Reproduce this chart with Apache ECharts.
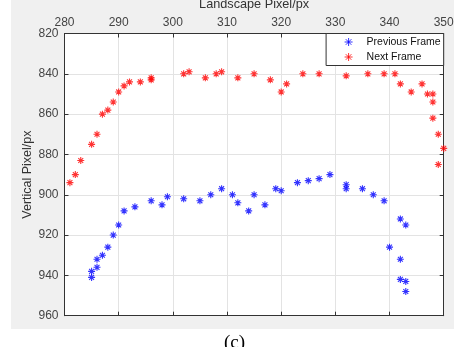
<!DOCTYPE html>
<html><head><meta charset="utf-8">
<script src="https://cdn.jsdelivr.net/npm/echarts@6/dist/echarts.min.js"></script>
<style>html,body{margin:0;padding:0;background:#fff}#c{width:454px;height:347px}</style>
</head><body><div id="c"></div>
<script>
const xTicks = [280, 290, 300, 310, 320, 330, 340, 350];
const yTicks = [820, 840, 860, 880, 900, 920, 940, 960];
const prevX = [285,285,286,286,287,288,289,290,291,293,296,298,299,302,305,307,309,311,312,314,315,317,319,320,323,325,327,329,332,332,335,337,339,342,343,340,342,342,343,343];
const prevY = [941,938,936,932,930,926,920,915,908,906,903,905,901,902,903,900,897,900,904,908,900,905,897,898,894,893,892,890,895,897,897,900,903,912,915,926,932,942,943,948];
const nextX = [281,282,283,285,286,287,288,289,290,291,292,294,296,296,302,303,306,308,309,312,315,318,320,321,324,327,332,336,339,341,342,344,346,347,348,348,348,349,350,349];
const nextY = [894,890,883,875,870,860,858,854,849,846,844,844,843,842,840,839,842,840,839,842,840,843,849,845,840,840,841,840,840,840,845,849,845,850,850,854,862,870,877,885];

const star = 'path://M0,5L10,5M5,0L5,10M1.5,1.5L8.5,8.5M8.5,1.5L1.5,8.5';
const axisCol = '#333';
const labCol = '#444';
const font = 'Liberation Sans, Arial, sans-serif';

const chart = echarts.init(document.getElementById('c'), null, {renderer: 'canvas'});
const gridL = 64.5, gridR = 10.3, gridT = 33.5, gridB = 31.3;
function pts(xs, ys){ return xs.map((x,i)=>[x, ys[i]]); }
chart.setOption({
  backgroundColor: '#ffffff',
  animation: false,
  textStyle: {fontFamily: font},
  graphic: [
    {type:'rect', z:-10, shape:{x:11, y:0, width:443, height:329}, style:{fill:'#f0f0f0'}},
    {type:'rect', z:-9, shape:{x:gridL, y:gridT, width:454-gridL-gridR, height:347-gridT-gridB}, style:{fill:'#ffffff'}},
    {type:'text', left: 224, top: 334, style:{text:'(c)', font:'19px "Liberation Serif", serif', fill:'#000'}}
  ],
  grid: {left: gridL, right: gridR, top: gridT, bottom: gridB, containLabel: false, outerBoundsMode: 'none'},
  legend: {
    orient: 'vertical', right: gridR, top: gridT,
    backgroundColor: '#ffffff', borderColor: '#333', borderWidth: 1, borderRadius: 0,
    padding: [3, 3, 3, 18], itemGap: 4, itemWidth: 8, itemHeight: 8,
    textStyle: {fontSize: 10.5, color: '#111', fontFamily: font, padding: [0, 0, 0, 9]},
    data: [
      {name: 'Previous Frame', icon: star, itemStyle:{color:'transparent', borderColor:'#0000ff', borderWidth:1}},
      {name: 'Next Frame', icon: star, itemStyle:{color:'transparent', borderColor:'#ff0000', borderWidth:1}}
    ]
  },
  xAxis: [
    {type:'value', position:'top', min:280, max:350, interval:10,
     name:'Landscape Pixel/px', nameLocation:'middle', nameGap: 23, nameMoveOverlap: false,
     nameTextStyle:{fontSize:12.7, color:'#333', fontFamily: font},
     axisLine:{show:true, lineStyle:{color:axisCol, width:1}},
     axisTick:{show:true, inside:true, length:4, lineStyle:{color:axisCol}},
     axisLabel:{fontSize:12, color:labCol, margin:5, fontFamily: font},
     splitLine:{show:true, lineStyle:{color:'#e3e3e3', width:1}}},
    {type:'value', position:'bottom', min:280, max:350, interval:10,
     axisLine:{show:true, lineStyle:{color:axisCol, width:1}},
     axisTick:{show:true, inside:true, length:4, lineStyle:{color:axisCol}},
     axisLabel:{show:false}, splitLine:{show:false}}
  ],
  yAxis: [
    {type:'value', position:'left', min:820, max:960, interval:20, inverse:true,
     name:'Vertical Pixel/px', nameLocation:'middle', nameGap: 30, nameRotate: 90, nameMoveOverlap: false,
     nameTextStyle:{fontSize:12.5, color:'#333', fontFamily: font},
     axisLine:{show:true, lineStyle:{color:axisCol, width:1}},
     axisTick:{show:true, inside:true, length:4, lineStyle:{color:axisCol}},
     axisLabel:{fontSize:12, color:labCol, margin:6, fontFamily: font},
     splitLine:{show:true, lineStyle:{color:'#e3e3e3', width:1}}},
    {type:'value', position:'right', min:820, max:960, interval:20, inverse:true,
     axisLine:{show:true, lineStyle:{color:axisCol, width:1}},
     axisTick:{show:true, inside:true, length:4, lineStyle:{color:axisCol}},
     axisLabel:{show:false}, splitLine:{show:false}}
  ],
  series: [
    {name:'Previous Frame', type:'scatter', xAxisIndex:0, yAxisIndex:0, data: pts(prevX, prevY),
     symbol: star, symbolSize: 7,
     itemStyle:{color:'transparent', borderColor:'#0000ff', borderWidth:1.1}},
    {name:'Next Frame', type:'scatter', xAxisIndex:0, yAxisIndex:0, data: pts(nextX, nextY),
     symbol: star, symbolSize: 7,
     itemStyle:{color:'transparent', borderColor:'#ff0000', borderWidth:1.1}}
  ]
});
</script></body></html>
